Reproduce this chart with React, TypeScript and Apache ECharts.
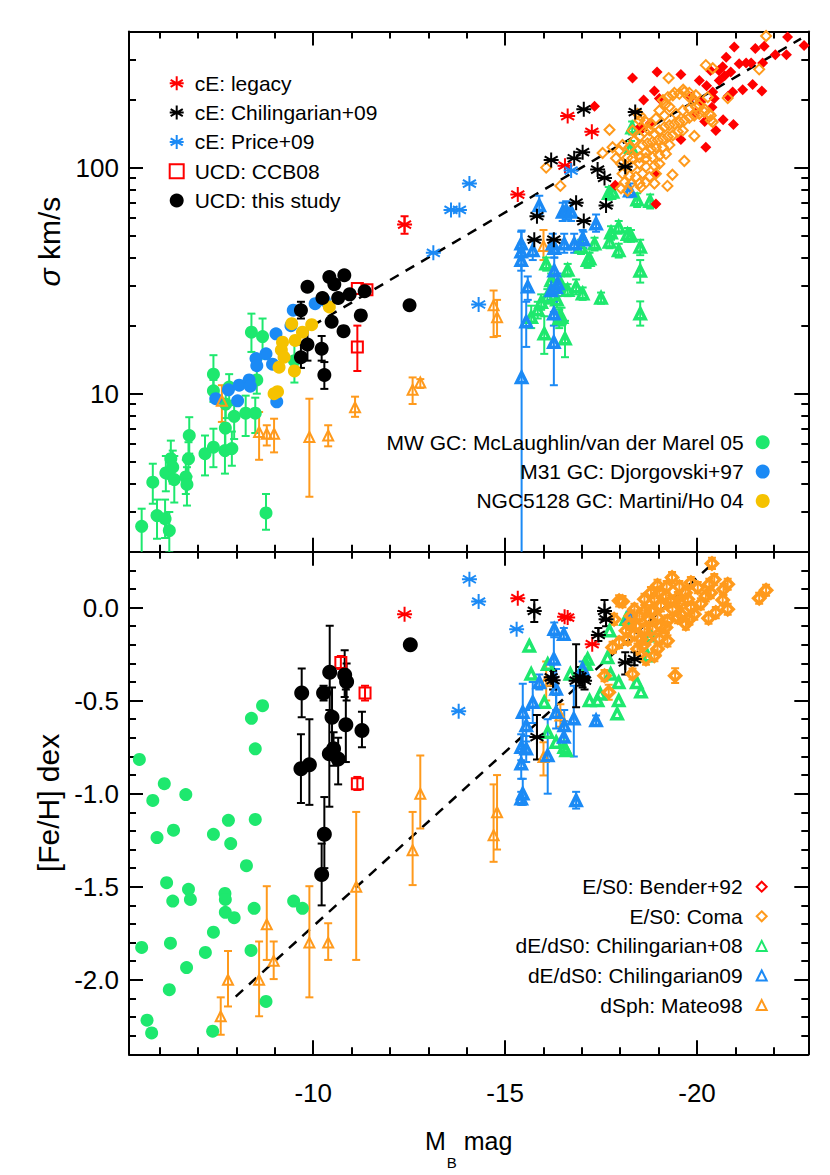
import React, { useEffect, useRef } from 'react';
import * as echarts from 'echarts';

const FONT = '"Liberation Sans", Arial, Helvetica, sans-serif';
const RED = '#ff0000';
const BLACK = '#000000';
const BLUE = '#1b8af5';
const GREEN = '#1ee86e';
const ORANGE = '#ff9a1c';
const YELLOW = '#f5c200';
const ASTERISK = 'path://M0,-10L0,10M-8.66,-5L8.66,5M-8.66,5L8.66,-5M-10,0L10,0';

// ---- axis ticks ----
const xMajorTicks = [-20, -15, -10];
const xMinorTicks = [-22, -21, -19, -18, -17, -16, -14, -13, -12, -11, -9, -8, -7, -6];
const sigmaMajorTicks = [10, 100];
const sigmaMinorTicks = [2, 3, 4, 5, 6, 7, 8, 9, 20, 30, 40, 50, 60, 70, 80, 90, 200, 300];
const fehMajorTicks = [-2, -1.5, -1, -0.5, 0];
const fehMinorTicks = [-2.3, -2.2, -2.1, -1.9, -1.8, -1.7, -1.6, -1.4, -1.3, -1.2, -1.1, -0.9, -0.8, -0.7, -0.6, -0.4, -0.3, -0.2, -0.1, 0.1, 0.2];

// ---- series names ----
const N_CE_LEG = 'cE: legacy';
const N_CE_CHIL = 'cE: Chilingarian+09';
const N_CE_PRICE = 'cE: Price+09';
const N_UCD_CCB = 'UCD: CCB08';
const N_UCD = 'UCD: this study';
const N_MW = 'MW GC: McLaughlin/van der Marel 05';
const N_M31 = 'M31 GC: Djorgovski+97';
const N_NGC = 'NGC5128 GC: Martini/Ho 04';
const N_BENDER = 'E/S0: Bender+92';
const N_COMA = 'E/S0: Coma';
const N_DE08 = 'dE/dS0: Chilingarian+08';
const N_DE09 = 'dE/dS0: Chilingarian09';
const N_DSPH = 'dSph: Mateo98';

// ---- fit lines ----
const sigmaFitLine = [[-9.98, 20.0], [-22.71, 372]];
const fehFitLine = [[-7.98, -2.09], [-20.48, 0.25]];

// ---- TOP PANEL: [M_B, sigma, (lo, hi)] ----
const mwGcSigma = [
  [-5.53, 2.59, 1.8, 3.1], [-5.82, 4.06, 3.26, 4.9], [-5.93, 2.89, 2.28, 3.4], [-6.14, 2.8, 2.3, 3.4],
  [-6.25, 2.48, 1.99, 3.0], [-6.16, 4.46, 3.7, 5.3], [-6.29, 5.16, 4.2, 6.2], [-6.34, 4.73, 4.0, 5.6],
  [-6.38, 4.17, 3.3, 5.3], [-6.68, 4.28, 3.6, 5.1], [-6.71, 3.97, 3.2, 4.73], [-6.75, 5.15, 4.3, 6.1],
  [-6.77, 6.53, 5.43, 7.87], [-7.18, 5.43, 4.35, 6.53], [-7.4, 5.8, 4.73, 7.0], [-7.4, 12.2, 10.2, 14.8],
  [-7.4, 10.3, 9.2, 11.5], [-7.7, 5.6, 4.43, 7.25], [-7.72, 9.0, 7.8, 10.3], [-7.71, 7.05, 5.7, 8.6],
  [-7.88, 5.72, 4.8, 6.8], [-7.94, 7.94, 6.3, 9.3], [-7.81, 10.7, 8.9, 12.2], [-8.39, 18.7, 15.3, 22.6],
  [-8.68, 17.9, 14.3, 21.5], [-8.24, 8.2, 6.5, 9.8], [-8.49, 8.2, 6.7, 9.6], [-8.77, 2.97, 2.5, 3.6],
  [-8.53, 11.5, 10.0, 13.2], [-9.51, 14.0, 11.2, 17.5],
];
const m31GcSigma = [
  [-7.46, 9.5], [-7.79, 10.4], [-8.07, 10.9], [-8.33, 11.5], [-8.36, 10.8], [-8.03, 9.3], [-8.51, 14.3],
  [-8.53, 13.3], [-8.77, 15.0], [-8.94, 13.5], [-9.03, 18.4], [-9.05, 9.2], [-9.42, 20.0], [-9.48, 23.4],
  [-10.05, 25.0], [-10.29, 25.9],
];
const ngcGcSigma = [
  [-9.2, 16.9], [-9.17, 15.6], [-9.11, 13.1], [-9.24, 14.5], [-8.98, 10.0], [-9.07, 10.2], [-9.44, 20.4],
  [-9.53, 17.2], [-9.72, 18.7], [-9.96, 20.2], [-9.51, 12.6], [-10.42, 24.2],
];
const dsphSigma = [
  [-7.62, 9.3, 7.5, 10.9], [-8.59, 6.77, 5.1, 8.3], [-8.79, 6.65, 5.9, 7.25], [-8.98, 6.65, 5.5, 7.75],
  [-9.9, 6.43, 3.5, 9.5], [-10.39, 6.53, 5.85, 7.25], [-11.09, 8.7, 7.9, 9.7], [-12.59, 10.4, 9.0, 11.8],
  [-12.79, 11.2, 10.6, 11.6], [-14.7, 24.6, 17.8, 28.6], [-14.79, 21.8, 18.0, 26.0], [-16.0, 45, 39, 53],
];
const de08Sigma = [
  [-18.31, 150, 140, 160], [-18.28, 123, 115, 131], [-17.7, 77, 72, 82], [-17.8, 78, 73, 83],
  [-18.44, 72, 67, 77], [-18.78, 71, 66, 76], [-17.76, 51.5, 48, 55], [-17.96, 54.6, 51, 58],
  [-18.19, 50.7, 47, 54], [-18.28, 50, 47, 53], [-17.72, 46.9, 44, 50], [-17.96, 43, 40, 46],
  [-18.52, 44.5, 41, 48], [-18.52, 34.9, 31, 39], [-17.33, 46, 43, 49], [-17.2, 39.5, 37, 42],
  [-16.07, 37.6, 35, 40], [-16.2, 31.7, 29.5, 34], [-16.63, 35.2, 33, 37.5], [-16.45, 30.7, 28.5, 33],
  [-16.98, 44.6, 41.5, 48], [-17.15, 38.9, 36, 42], [-16.85, 29.7, 27.5, 32], [-15.68, 21.8, 19.5, 24.5],
  [-15.94, 25.4, 23.5, 27.5], [-16.02, 18.4, 15, 22], [-16.41, 21.5, 19.5, 23.5], [-16.47, 21.8, 20, 24],
  [-16.56, 17.5, 14.5, 21], [-16.63, 28.7, 27, 30.5], [-17.02, 27.7, 26, 29.5], [-17.5, 26.5, 25, 28],
  [-18.52, 22.6, 20, 25.6], [-15.85, 23.5, 21.5, 25.5], [-16.1, 27, 25, 29], [-16.35, 26, 24, 28],
];
const de09Sigma = [
  [-15.89, 68, 62, 75], [-15.42, 46, 42, 52], [-15.42, 42.4, 39, 46], [-15.42, 38.9, 35, 43],
  [-15.72, 43, 39, 48], [-16.24, 46, 42, 51], [-16.28, 44, 40, 48], [-16.5, 63.7, 58, 70],
  [-16.59, 64.7, 59, 71], [-16.72, 63.7, 58, 70], [-16.54, 46, 42, 51], [-16.8, 46, 42, 51],
  [-17.02, 48.5, 44, 53], [-16.28, 35, 31, 40], [-16.37, 30.7, 27, 34], [-15.59, 29.7, 26, 33],
  [-15.43, 11.8, 1.5, 52.7], [-15.55, 20.8, 16.1, 25.5], [-16.27, 16.9, 10.9, 23], [-16.27, 22.6, 20, 25.5],
  [-16.2, 28.6, 26, 31.5], [-16.33, 29.5, 27, 32], [-17.37, 56.5, 52, 62], [-17.04, 48, 44, 52],
  [-18.25, 79, 74, 85],
];
const benderSigma = [
  [-18.32, 249], [-18.96, 265], [-19.58, 258], [-18.61, 199], [-18.89, 218], [-19.02, 202], [-18.57, 149],
  [-18.78, 157], [-19.58, 133], [-20.23, 123], [-20.06, 243], [-20.41, 216], [-20.67, 279], [-20.76, 308],
  [-20.97, 342], [-21.1, 288], [-21.28, 290], [-21.41, 290], [-21.52, 336], [-21.75, 344], [-21.71, 290],
  [-21.45, 233], [-21.69, 218], [-21.19, 221], [-20.93, 216], [-20.95, 155], [-20.68, 163], [-20.49, 146],
  [-20.39, 185], [-20.45, 202], [-20.58, 243], [-20.88, 265], [-22.36, 378], [-22.79, 347], [-22.33, 316],
  [-22.04, 316], [-20.35, 269], [-20.57, 269], [-20.72, 255], [-18.93, 69], [-18.91, 94], [-17.33, 187],
  [-17.87, 83.5], [-18.5, 150], [-20.81, 207], [-19.95, 175], [-20.1, 195], [-20.25, 230], [-19.85, 205],
  [-20.2, 160],
];
const comaSigma = [
  [-21.8, 382], [-21.62, 272], [-20.23, 284], [-20.41, 275], [-19.26, 249], [-17.72, 147], [-17.8, 123],
  [-17.54, 116], [-18.5, 162], [-18.52, 170], [-19.17, 190], [-19.41, 214], [-19.64, 221], [-19.8, 214],
  [-19.97, 209], [-20.28, 205], [-20.8, 203], [-20.32, 173], [-20.36, 162], [-19.93, 138], [-19.67, 107],
  [-19.36, 93], [-19.23, 83], [-16.07, 100], [-16.44, 83],
  [-18.37, 132], [-18.5, 137], [-18.63, 144], [-18.76, 146], [-18.89, 141], [-19.02, 146], [-19.15, 151],
  [-19.28, 154], [-19.41, 156], [-19.54, 159], [-19.67, 162], [-19.8, 166], [-19.93, 170], [-20.06, 173],
  [-20.19, 176], [-18.58, 126], [-18.71, 128], [-18.84, 130], [-18.98, 132], [-19.11, 134], [-19.24, 137],
  [-19.37, 139], [-19.5, 144], [-19.63, 146], [-18.45, 119], [-18.67, 117], [-18.8, 121], [-18.93, 123],
  [-19.11, 123], [-19.28, 126], [-18.19, 111], [-18.32, 110], [-18.5, 111], [-18.67, 110], [-18.84, 111],
  [-19.02, 113], [-19.19, 115], [-18.15, 102], [-18.32, 101], [-18.5, 104], [-18.67, 101], [-18.89, 102],
  [-19.02, 104], [-18.06, 94], [-18.24, 92], [-18.41, 91], [-18.58, 94], [-18.76, 91], [-18.93, 94],
  [-18.11, 86], [-18.28, 85], [-18.5, 85], [-18.67, 86], [-18.89, 85], [-18.02, 81], [-18.19, 79],
  [-18.54, 82], [-19.11, 199], [-19.24, 205], [-19.37, 209], [-19.54, 212], [-19.67, 216], [-19.8, 205],
  [-19.93, 199], [-20.06, 189], [-20.19, 182], [-20.36, 170], [-20.41, 159], [-19.15, 170], [-19.02, 179],
  [-18.93, 165], [-18.8, 156], [-18.67, 159], [-19.45, 173], [-19.63, 179], [-19.8, 182], [-19.97, 186],
  [-19.28, 186], [-17.98, 119], [-18.06, 126], [-17.89, 110], [-18.02, 104], [-18.24, 123], [-18.32, 146],
  [-18.45, 173],
];
const ceLegacySigma = [[-12.38, 56, 51, 61], [-15.33, 76], [-16.56, 102], [-16.63, 169], [-17.26, 144]];
const ceChilSigma = [
  [-17.05, 181], [-16.2, 108], [-16.8, 110], [-17.02, 117], [-16.85, 70], [-15.83, 61], [-15.76, 48],
  [-16.27, 48], [-17.05, 58], [-17.41, 98], [-17.59, 90], [-18.13, 101], [-18.39, 176], [-17.63, 68],
];
const cePriceSigma = [[-13.13, 42], [-13.59, 65], [-13.81, 65], [-14.07, 85], [-14.31, 24.8], [-16.72, 97]];
const ucdCcbSigma = [[-11.15, 29.2], [-11.4, 28.8], [-11.15, 16.1, 12.6, 20]];
const ucdSigma = [
  [-9.68, 23.4, 21.5, 25.5], [-9.85, 16.5, 14, 19.5], [-9.68, 14.5, 13, 16.5], [-10.22, 15.8, 14, 18],
  [-10.29, 12.1, 10.5, 13.8], [-10.48, 20.8], [-10.79, 18.9], [-10.24, 26.5], [-11.24, 22.2], [-9.85, 29.7],
  [-10.42, 32.8], [-10.81, 33.4], [-11.34, 28.4], [-12.51, 24.6], [-10.55, 30.5], [-10.65, 26.5], [-10.95, 27.5],
];

// ---- BOTTOM PANEL: [M_B, [Fe/H], (lo, hi)] ----
const mwGcFeh = [
  [-5.47, -0.816], [-8.68, -0.527], [-8.39, -0.595], [-8.49, -0.759], [-6.12, -0.946], [-5.82, -1.036],
  [-6.68, -1.005], [-7.79, -1.143], [-8.49, -1.138], [-5.93, -1.236], [-6.36, -1.196], [-7.4, -1.218],
  [-7.85, -1.268], [-8.26, -1.387], [-6.18, -1.478], [-6.75, -1.514], [-6.34, -1.577], [-6.8, -1.568],
  [-7.7, -1.536], [-7.71, -1.568], [-7.71, -1.637], [-7.94, -1.666], [-8.46, -1.616], [-9.49, -1.577],
  [-9.72, -1.616], [-5.53, -1.826], [-6.28, -1.803], [-7.4, -1.744], [-7.19, -1.853], [-8.38, -1.842],
  [-6.7, -1.934], [-6.25, -2.053], [-8.77, -2.116], [-5.67, -2.217], [-5.79, -2.285], [-7.38, -2.276],
];
const ucdFeh = [
  [-9.7, -0.459, -0.589, -0.327], [-10.27, -0.459, -0.5, -0.42], [-10.43, -0.348, -0.58, -0.098],
  [-10.49, -0.589, -0.75, -0.43], [-10.42, -0.786, -1.07, -0.55], [-10.82, -0.363, -0.48, -0.23],
  [-10.87, -0.398, -0.5, -0.3], [-10.85, -0.629, -0.83, -0.44], [-11.27, -0.661, -0.75, -0.56],
  [-9.68, -0.866, -1.05, -0.68], [-9.9, -0.845, -1.06, -0.6], [-10.53, -0.759, -0.85, -0.67],
  [-10.65, -0.813, -0.95, -0.7], [-10.29, -1.218, -1.4, -1.018], [-10.22, -1.434, -1.6, -1.268],
  [-12.53, -0.2],
];
const ucdCcbFeh = [[-10.72, -0.295, -0.33, -0.26], [-11.35, -0.459, -0.5, -0.42], [-11.15, -0.946, -0.98, -0.91]];
const ceLegacyFeh = [[-12.38, -0.036], [-15.33, 0.05], [-16.63, -0.054], [-16.55, -0.05], [-17.27, -0.197]];
const ceChilFeh = [
  [-15.76, -0.018, -0.077, 0.04], [-15.83, -0.696, -0.816, -0.577], [-16.2, -0.375, -0.42, -0.33],
  [-16.25, -0.39, -0.44, -0.34], [-16.85, -0.393, -0.536, -0.197], [-17.07, -0.393, -0.44, -0.35],
  [-16.95, -0.37, -0.42, -0.32], [-17.59, -0.018, -0.07, 0.04], [-17.63, -0.063, -0.1, -0.02],
  [-17.43, -0.147, -0.18, -0.11], [-18.13, -0.295, -0.36, -0.24], [-18.37, -0.277, -0.31, -0.24],
  [-17.02, -0.384, -0.43, -0.34],
];
const cePriceFeh = [[-14.07, 0.152], [-14.31, 0.032], [-15.3, -0.116], [-13.79, -0.557]];
const de09Feh = [
  [-16.28, -0.116, -0.16, -0.08], [-16.53, -0.143, -0.17, -0.11], [-16.27, -0.277, -0.4, -0.15],
  [-15.89, -0.402, -0.44, -0.36], [-16.33, -0.438, -0.55, -0.33], [-15.72, -0.509, -0.62, -0.4],
  [-15.46, -0.562, -0.74, -0.41], [-15.55, -0.634, -0.72, -0.55], [-15.42, -0.75, -0.82, -0.68],
  [-15.55, -0.759, -0.83, -0.69], [-15.42, -0.839, -0.92, -0.76], [-15.46, -1.0, -1.06, -0.92],
  [-15.42, -1.027, -1.06, -0.99], [-16.11, -0.795, -1.0, -0.6], [-16.33, -0.562, -0.65, -0.47],
  [-16.54, -0.634, -0.72, -0.55], [-16.53, -0.696, -0.78, -0.61], [-16.79, -0.598, -0.8, -0.42],
  [-16.85, -1.036, -1.08, -0.99], [-18.26, -0.045, -0.07, -0.02], [-17.37, -0.607, -0.63, -0.58],
  [-17.02, -0.33, -0.37, -0.29],
];
const de08Feh = [
  [-15.63, -0.206], [-16.11, -0.304], [-15.68, -0.357], [-16.02, -0.509], [-16.11, -0.67], [-16.33, -0.723],
  [-16.54, -0.75], [-16.59, -0.768], [-16.7, -0.357], [-17.07, -0.304], [-17.72, -0.125], [-18.15, -0.063],
  [-17.67, -0.268], [-17.11, -0.304], [-17.75, -0.357], [-17.96, -0.402], [-18.43, -0.402], [-18.54, -0.452],
  [-17.48, -0.464], [-17.2, -0.5], [-17.41, -0.5], [-17.96, -0.5], [-17.92, -0.571], [-18.78, -0.152],
  [-18.71, -0.259], [-17.15, -0.277],
];
const dsphFeh = [
  [-7.59, -2.196, -2.295, -2.094], [-7.78, -2.0, -2.143, -1.845], [-8.59, -2.0, -2.196, -1.794],
  [-8.79, -1.702, -1.893, -1.497], [-8.97, -1.898, -1.996, -1.794], [-9.9, -1.8, -2.094, -1.497],
  [-10.39, -1.8, -1.893, -1.696], [-11.12, -1.5, -1.893, -1.098], [-12.59, -1.304, -1.491, -1.098],
  [-12.79, -1.0, -1.187, -0.795], [-14.7, -1.223, -1.366, -0.95], [-14.79, -1.1, -1.3, -0.9],
  [-16.07, -0.393, -0.5, -0.29], [-16.44, -0.58, -0.64, -0.52], [-16.0, -0.803, -0.902, -0.723],
];
const comaFeh = [
  [-20.39, 0.237, 0.207, 0.267], [-19.35, 0.161, 0.131, 0.191], [-18.97, 0.119, 0.089, 0.149],
  [-19.21, 0.112, 0.082, 0.142], [-19.54, 0.112, 0.082, 0.142], [-19.5, 0.053, 0.023, 0.083],
  [-19.84, 0.134, 0.104, 0.164], [-20.02, 0.107, 0.077, 0.137], [-20.32, 0.125, 0.095, 0.155],
  [-20.36, 0.08, 0.05, 0.11], [-20.23, 0.062, 0.032, 0.092], [-20.8, 0.125, 0.095, 0.155],
  [-20.69, 0.098, 0.068, 0.128], [-20.67, 0.041, 0.011, 0.071], [-20.8, -0.009, -0.039, 0.021],
  [-20.49, -0.027, -0.057, 0.003], [-20.3, -0.057, -0.087, -0.027], [-21.8, 0.093, 0.063, 0.123],
  [-21.62, 0.05, 0.02, 0.08], [-18.06, 0.032, 0.002, 0.062], [-17.97, 0.036, 0.006, 0.066],
  [-17.84, -0.063, -0.093, -0.033], [-18.89, 0.044, 0.014, 0.074], [-18.8, -0.018, -0.048, 0.012],
  [-19.06, 0.009, -0.021, 0.039], [-19.32, 0.035, 0.005, 0.065], [-19.58, -0.036, -0.066, -0.006],
  [-19.84, 0.0, -0.03, 0.03], [-19.8, -0.063, -0.093, -0.033], [-19.93, -0.036, -0.066, -0.006],
  [-19.71, -0.089, -0.119, -0.059], [-19.5, -0.054, -0.084, -0.024], [-19.23, -0.072, -0.102, -0.042],
  [-19.06, -0.099, -0.129, -0.069], [-18.97, -0.054, -0.084, -0.024], [-18.76, -0.063, -0.093, -0.033],
  [-18.63, -0.018, -0.048, 0.012], [-18.5, -0.045, -0.075, -0.015], [-18.41, -0.099, -0.129, -0.069],
  [-18.63, -0.116, -0.146, -0.086], [-18.84, -0.116, -0.146, -0.086], [-19.19, -0.107, -0.137, -0.077],
  [-18.71, -0.17, -0.2, -0.14], [-18.54, -0.17, -0.2, -0.14], [-18.37, -0.143, -0.173, -0.113],
  [-18.15, -0.125, -0.155, -0.095], [-18.2, -0.17, -0.2, -0.14], [-18.24, -0.09, -0.12, -0.06],
  [-19.02, -0.17, -0.2, -0.14], [-19.23, -0.179, -0.209, -0.149], [-18.58, -0.206, -0.236, -0.176],
  [-18.45, -0.223, -0.253, -0.193], [-18.97, -0.223, -0.253, -0.193], [-18.89, -0.259, -0.289, -0.229],
  [-18.67, -0.277, -0.307, -0.247], [-17.8, -0.214, -0.244, -0.184], [-17.97, -0.187, -0.217, -0.157],
  [-17.59, -0.366, -0.396, -0.336], [-18.32, -0.357, -0.387, -0.327], [-19.43, -0.366, -0.406, -0.326],
  [-17.7, -0.455, -0.495, -0.415], [-19.19, 0.062, 0.032, 0.092], [-19.02, 0.08, 0.05, 0.11],
  [-18.8, 0.08, 0.05, 0.11], [-18.63, 0.044, 0.014, 0.074], [-18.37, -0.009, -0.039, 0.021],
  [-18.28, -0.045, -0.075, -0.015], [-19.7, 0.08, 0.05, 0.11], [-19.54, 0.027, -0.003, 0.057],
  [-19.36, -0.009, -0.039, 0.021], [-19.76, 0.044, 0.014, 0.074], [-20.45, 0.15, 0.12, 0.18],
  [-20.1, 0.02, -0.01, 0.05],
];

// ---- helpers ----
const pts = (arr: number[][]) => arr.map((d) => [d[0], d[1]]);
const errs = (arr: number[][]) => arr.filter((d) => d.length > 3).map((d) => [d[0], d[2], d[3]]);
const openStyle = (c: string, w = 2) => ({ color: 'rgba(255,255,255,0)', borderColor: c, borderWidth: w, opacity: 1 });
const fillStyle = (c: string) => ({ color: c, borderWidth: 0, opacity: 1 });

function scatter(name: string, arr: number[][], panel: number, symbol: string, size: number, style: any) {
  return {
    type: 'scatter', name, data: pts(arr), xAxisIndex: panel * 4, yAxisIndex: panel * 4,
    symbol, symbolSize: size, itemStyle: style, silent: true, clip: true, z: 3,
  };
}
function errorBars(arr: number[][], panel: number, color: string, cap = 4) {
  return {
    type: 'custom', name: '_err', data: errs(arr), xAxisIndex: panel * 4, yAxisIndex: panel * 4,
    clip: true, silent: true, z: 3,
    renderItem: (params: any, api: any) => {
      const x = api.value(0);
      const a = api.coord([x, api.value(1)]);
      const b = api.coord([x, api.value(2)]);
      const st = { stroke: color, lineWidth: 2 };
      return {
        type: 'group',
        children: [
          { type: 'line', shape: { x1: a[0], y1: a[1], x2: b[0], y2: b[1] }, style: st },
          { type: 'line', shape: { x1: a[0] - cap, y1: a[1], x2: a[0] + cap, y2: a[1] }, style: st },
          { type: 'line', shape: { x1: b[0] - cap, y1: b[1], x2: b[0] + cap, y2: b[1] }, style: st },
        ],
      };
    },
  };
}
function group(name: string, arr: number[][], panel: number, symbol: string, size: number, style: any, ecolor: string) {
  const out: any[] = [];
  if (arr.some((d) => d.length > 3)) out.push(errorBars(arr, panel, ecolor));
  out.push(scatter(name, arr, panel, symbol, size, style));
  return out;
}

const LBL = { color: '#000', fontFamily: FONT, fontSize: 26 };
function xAxis(grid: number, pos: string, major: boolean, labels: boolean, extra: any = {}) {
  return {
    type: 'value', gridIndex: grid, position: pos, min: -22.9, max: -5.2, inverse: true,
    axisLine: { show: major, onZero: false, lineStyle: { color: '#000', width: 2 } },
    axisTick: { show: true, inside: true, length: major ? 14 : 7, customValues: major ? xMajorTicks : xMinorTicks, lineStyle: { color: '#000', width: 2 } },
    axisLabel: labels ? { show: true, customValues: xMajorTicks, formatter: (v: number) => String(Math.round(v)), margin: 26, ...LBL } : { show: false },
    splitLine: { show: false },
    ...extra,
  };
}
function yAxisSigma(pos: string, major: boolean, labels: boolean, extra: any = {}) {
  return {
    type: 'log', logBase: 10, gridIndex: 0, position: pos, min: 2, max: 400,
    axisLine: { show: major, onZero: false, lineStyle: { color: '#000', width: 2 } },
    axisTick: { show: true, inside: true, length: major ? 14 : 7, customValues: major ? sigmaMajorTicks : sigmaMinorTicks, lineStyle: { color: '#000', width: 2 } },
    axisLabel: labels ? { show: true, customValues: sigmaMajorTicks, formatter: (v: number) => String(Math.round(v)), margin: 10, ...LBL } : { show: false },
    splitLine: { show: false },
    ...extra,
  };
}
function yAxisFeh(pos: string, major: boolean, labels: boolean, extra: any = {}) {
  return {
    type: 'value', gridIndex: 1, position: pos, min: -2.4, max: 0.3,
    axisLine: { show: major, onZero: false, lineStyle: { color: '#000', width: 2 } },
    axisTick: { show: true, inside: true, length: major ? 14 : 7, customValues: major ? fehMajorTicks : fehMinorTicks, lineStyle: { color: '#000', width: 2 } },
    axisLabel: labels ? { show: true, customValues: fehMajorTicks, formatter: (v: number) => v.toFixed(1), margin: 10, ...LBL } : { show: false },
    splitLine: { show: false },
    ...extra,
  };
}

const legendText = { fontSize: 21, fontFamily: FONT, color: '#000' };

export default function App() {
  const ref = useRef<HTMLDivElement>(null);
  useEffect(() => {
    if (!ref.current) return;
    const chart = echarts.init(ref.current, undefined, { renderer: 'svg' });
    const fitLine = (data: number[][], panel: number) => ({
      type: 'line', name: '_fit', data, xAxisIndex: panel * 4, yAxisIndex: panel * 4, symbol: 'none', silent: true,
      lineStyle: { color: '#000', width: 2.5, type: [10, 8] }, z: 2,
    });
    const series: any[] = [
      // top panel
      ...group(N_MW, mwGcSigma, 0, 'circle', 13, fillStyle(GREEN), GREEN),
      ...group(N_M31, m31GcSigma, 0, 'circle', 13, fillStyle(BLUE), BLUE),
      ...group(N_NGC, ngcGcSigma, 0, 'circle', 13, fillStyle(YELLOW), YELLOW),
      ...group(N_DSPH, dsphSigma, 0, 'triangle', 10, openStyle(ORANGE, 2), ORANGE),
      ...group(N_DE08, de08Sigma, 0, 'triangle', 10, openStyle(GREEN, 3.5), GREEN),
      ...group(N_DE09, de09Sigma, 0, 'triangle', 10, openStyle(BLUE, 3.5), BLUE),
      ...group(N_BENDER, benderSigma, 0, 'diamond', 11, fillStyle(RED), RED),
      ...group(N_COMA, comaSigma, 0, 'diamond', 10, openStyle(ORANGE, 2), ORANGE),
      fitLine(sigmaFitLine, 0),
      ...group(N_CE_LEG, ceLegacySigma, 0, ASTERISK, 15, openStyle(RED, 2), RED),
      ...group(N_CE_CHIL, ceChilSigma, 0, ASTERISK, 15, openStyle(BLACK, 2), BLACK),
      ...group(N_CE_PRICE, cePriceSigma, 0, ASTERISK, 15, openStyle(BLUE, 2), BLUE),
      ...group(N_UCD_CCB, ucdCcbSigma, 0, 'rect', 11, openStyle(RED, 2), RED),
      ...group(N_UCD, ucdSigma, 0, 'circle', 14, fillStyle(BLACK), BLACK),
      // bottom panel
      ...group(N_MW, mwGcFeh, 1, 'circle', 13, fillStyle(GREEN), GREEN),
      ...group(N_DSPH, dsphFeh, 1, 'triangle', 10, openStyle(ORANGE, 2), ORANGE),
      ...group(N_DE08, de08Feh, 1, 'triangle', 10, openStyle(GREEN, 3.5), GREEN),
      ...group(N_DE09, de09Feh, 1, 'triangle', 10, openStyle(BLUE, 3.5), BLUE),
      ...group(N_COMA, comaFeh, 1, 'diamond', 11, openStyle(ORANGE, 3.5), ORANGE),
      fitLine(fehFitLine, 1),
      ...group(N_CE_LEG, ceLegacyFeh, 1, ASTERISK, 15, openStyle(RED, 2), RED),
      ...group(N_CE_CHIL, ceChilFeh, 1, ASTERISK, 15, openStyle(BLACK, 2), BLACK),
      ...group(N_CE_PRICE, cePriceFeh, 1, ASTERISK, 15, openStyle(BLUE, 2), BLUE),
      ...group(N_UCD_CCB, ucdCcbFeh, 1, 'rect', 11, openStyle(RED, 2), RED),
      ...group(N_UCD, ucdFeh, 1, 'circle', 15, fillStyle(BLACK), BLACK),
    ];
    const legendIcon = (name: string, icon: string, style: any) => ({ name, icon, itemStyle: style });
    const option: any = {
      animation: false,
      backgroundColor: '#ffffff',
      textStyle: { fontFamily: FONT },
      grid: [
        { left: 129, top: 31.5, width: 679.3, height: 520.2 },
        { left: 129, top: 551.7, width: 679.3, height: 502.6 },
      ],
      xAxis: [
        xAxis(0, 'bottom', true, false),
        xAxis(0, 'top', true, false),
        xAxis(0, 'bottom', false, false),
        xAxis(0, 'top', false, false),
        xAxis(1, 'bottom', true, true, {
          name: '{m|M}{b|B}{m| mag}', nameLocation: 'middle', nameGap: 74,
          nameTextStyle: {
            rich: {
              m: { fontSize: 25, fontFamily: FONT, color: '#000', verticalAlign: 'top', lineHeight: 42 },
              b: { fontSize: 15, fontFamily: FONT, color: '#000', verticalAlign: 'bottom', lineHeight: 42, padding: [0, 0, 0, 1] },
            },
          },
        }),
        xAxis(1, 'top', true, false),
        xAxis(1, 'bottom', false, false),
        xAxis(1, 'top', false, false),
      ],
      yAxis: [
        yAxisSigma('left', true, true, {
          name: '{i|σ} km/s', nameLocation: 'middle', nameGap: 62, nameRotate: 90,
          nameTextStyle: {
            fontSize: 30, fontFamily: FONT, color: '#000', padding: [0, 0, 0, 100],
            rich: { i: { fontSize: 30, fontStyle: 'italic', fontFamily: FONT, color: '#000' } },
          },
        }),
        yAxisSigma('right', true, false),
        yAxisSigma('left', false, false),
        yAxisSigma('right', false, false),
        yAxisFeh('left', true, true, {
          name: '[Fe/H] dex', nameLocation: 'middle', nameGap: 62, nameRotate: 90,
          nameTextStyle: { fontSize: 30, fontFamily: FONT, color: '#000' },
        }),
        yAxisFeh('right', true, false),
        yAxisFeh('left', false, false),
        yAxisFeh('right', false, false),
      ],
      legend: [
        {
          orient: 'vertical', left: 168.7, top: 72.8, itemGap: 8.3, itemWidth: 14, itemHeight: 14, padding: 0,
          selectedMode: false, textStyle: { ...legendText, padding: [0, 0, 0, 6] },
          data: [
            legendIcon(N_CE_LEG, ASTERISK, openStyle(RED, 2)),
            legendIcon(N_CE_CHIL, ASTERISK, openStyle(BLACK, 2)),
            legendIcon(N_CE_PRICE, ASTERISK, openStyle(BLUE, 2)),
            legendIcon(N_UCD_CCB, 'rect', openStyle(RED, 2)),
            legendIcon(N_UCD, 'circle', fillStyle(BLACK)),
          ],
        },
        {
          orient: 'vertical', right: 60.3, top: 431.8, itemGap: 8.3, itemWidth: 14, itemHeight: 14, align: 'right', padding: 0,
          selectedMode: false, textStyle: { ...legendText, padding: [0, 7, 0, 0] },
          data: [
            legendIcon(N_MW, 'circle', fillStyle(GREEN)),
            legendIcon(N_M31, 'circle', fillStyle(BLUE)),
            legendIcon(N_NGC, 'circle', fillStyle(YELLOW)),
          ],
        },
        {
          orient: 'vertical', right: 62.3, top: 876.2, itemGap: 8.6, itemWidth: 10, itemHeight: 10, align: 'right', padding: 0,
          selectedMode: false, textStyle: { ...legendText, padding: [0, 9, 0, 0] },
          data: [
            legendIcon(N_BENDER, 'diamond', openStyle(RED, 2)),
            legendIcon(N_COMA, 'diamond', openStyle(ORANGE, 2)),
            legendIcon(N_DE08, 'triangle', openStyle(GREEN, 2)),
            legendIcon(N_DE09, 'triangle', openStyle(BLUE, 2)),
            legendIcon(N_DSPH, 'triangle', openStyle(ORANGE, 2)),
          ],
        },
      ],
      series,
    };
    chart.setOption(option);
    return () => chart.dispose();
  }, []);
  return <div ref={ref} style={{ position: 'absolute', left: 0, top: 0, width: 830, height: 1175, background: '#fff' }} />;
}
